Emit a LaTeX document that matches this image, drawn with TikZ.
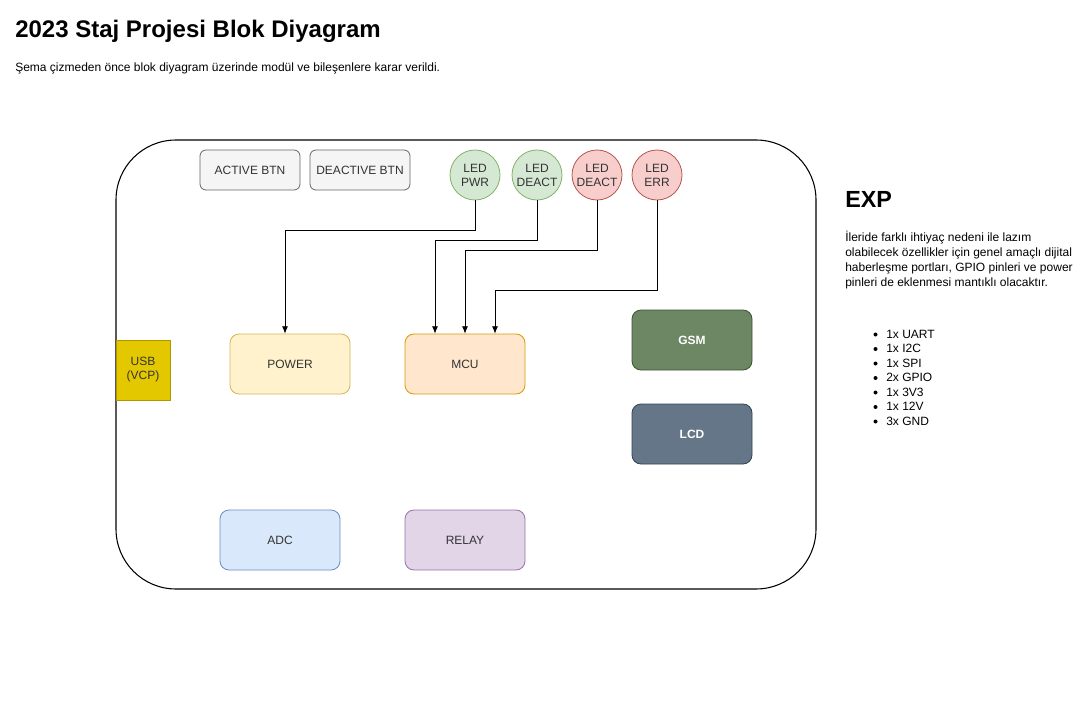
\documentclass[tikz,border=0pt]{standalone}
\usepackage{fontspec}
\setmainfont{Liberation Sans}
\usetikzlibrary{arrows.meta}
\definecolor{btnfill}{HTML}{F5F5F5}\definecolor{btnline}{HTML}{666666}
\definecolor{gfill}{HTML}{D5E8D4}\definecolor{gline}{HTML}{82B366}
\definecolor{rfill}{HTML}{F8CECC}\definecolor{rline}{HTML}{B85450}
\definecolor{usbfill}{HTML}{E3C800}\definecolor{usbline}{HTML}{B09500}
\definecolor{pwfill}{HTML}{FFF2CC}\definecolor{pwline}{HTML}{D6B656}
\definecolor{mcfill}{HTML}{FFE6CC}\definecolor{mcline}{HTML}{D79B00}
\definecolor{gsfill}{HTML}{6D8764}\definecolor{gsline}{HTML}{3A5431}
\definecolor{lcfill}{HTML}{647687}\definecolor{lcline}{HTML}{314354}
\definecolor{adfill}{HTML}{DAE8FC}\definecolor{adline}{HTML}{6C8EBF}
\definecolor{refill}{HTML}{E1D5E7}\definecolor{reline}{HTML}{9673A6}
\definecolor{txt}{HTML}{333333}
\tikzset{
  blk/.style={draw, rounded corners=6.75pt, minimum width=90pt, minimum height=45pt, inner sep=0pt, font=\fontsize{9}{11}\selectfont, text=txt, line width=0.6pt},
  btn/.style={draw=btnline, fill=btnfill, rounded corners=4.5pt, minimum width=75pt, minimum height=30pt, inner sep=0pt, font=\fontsize{9}{11}\selectfont, text=txt, line width=0.6pt},
  led/.style={circle, draw, minimum size=37.5pt, inner sep=0pt, align=center, font=\fontsize{9}{10.5}\selectfont, text=txt, line width=0.6pt},
  arr/.style={-{Latex[length=5.5pt,width=4.5pt]}, line width=0.6pt},
  plain/.style={anchor=base west, inner sep=0pt, font=\fontsize{9}{11.25}\selectfont}
}
\begin{document}
\begin{tikzpicture}[x=0.75pt,y=-0.75pt]
\useasboundingbox (0,0) rectangle (1090,710);
% title
\node[anchor=base west, inner sep=0pt, font=\fontsize{18}{22}\selectfont\bfseries] (title) at (15,38) {2023 Staj Projesi Blok Diyagram};
\node[plain] (sub) at (15,72) {Şema çizmeden önce blok diyagram üzerinde modül ve bileşenlere karar verildi.};
% board
\draw[line width=0.8pt, rounded corners=45pt] (116,140) rectangle (816,589);
\node[btn] (abtn) at (250,170) {ACTIVE BTN};
\node[btn] (dbtn) at (360,170) {DEACTIVE BTN};
\node[led, draw=gline, fill=gfill] (ledpwr) at (475,175) {LED\\PWR};
\node[led, draw=gline, fill=gfill] (ledg) at (537,175) {LED\\DEACT};
\node[led, draw=rline, fill=rfill] (ledr) at (597,175) {LED\\DEACT};
\node[led, draw=rline, fill=rfill] (lederr) at (657,175) {LED\\ERR};
\node[draw=usbline, fill=usbfill, minimum width=40.5pt, minimum height=45pt, inner sep=0pt, align=center, font=\fontsize{9}{10.5}\selectfont, text=txt, line width=0.6pt] (usb) at (143,370) {USB\\(VCP)};
\node[blk, draw=pwline, fill=pwfill] (power) at (290,364) {POWER};
\node[blk, draw=mcline, fill=mcfill] (mcu) at (465,364) {MCU};
\node[blk, draw=gsline, fill=gsfill, text=white, font=\fontsize{9}{11}\selectfont\bfseries] (gsm) at (692,340) {GSM};
\node[blk, draw=lcline, fill=lcfill, text=white, font=\fontsize{9}{11}\selectfont\bfseries] (lcd) at (692,434) {LCD};
\node[blk, draw=adline, fill=adfill] (adc) at (280,540) {ADC};
\node[blk, draw=reline, fill=refill] (relay) at (465,540) {RELAY};
% connectors
\draw[arr] (ledpwr.south) -- ++(0,30) -| ([xshift=-3.75pt]power.north);
\draw[arr] (ledg.south) -- ++(0,40) -| ([xshift=-22.5pt]mcu.north);
\draw[arr] (ledr.south) -- ++(0,50) -| (mcu.north);
\draw[arr] (lederr.south) -- ++(0,90) -| ([xshift=22.5pt]mcu.north);
% EXP
\node[anchor=base west, inner sep=0pt, font=\fontsize{17.5}{20}\selectfont\bfseries] (exp) at (845,207) {EXP};
\node[plain] (p1) at (845,241) {İleride farklı ihtiyaç nedeni ile lazım};
\node[plain] (p2) at (845,256) {olabilecek özellikler için genel amaçlı dijital};
\node[plain] (p3) at (845,271) {haberleşme portları, GPIO pinleri ve power};
\node[plain] (p4) at (845,286) {pinleri de eklenmesi mantıklı olacaktır.};
\foreach \t [count=\i from 0] in {1x UART,1x I2C,1x SPI,2x GPIO,1x 3V3,1x 12V,3x GND}{
  \fill (875.5,{334.5+\i*14.5}) circle (2);
  \node[plain] (li\i) at (886,{338+\i*14.5}) {\t};
}
\end{tikzpicture}
\end{document}
